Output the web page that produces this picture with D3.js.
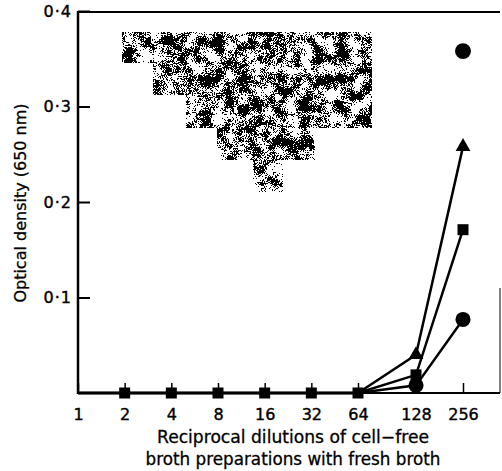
<!DOCTYPE html>
<html>
<head>
<meta charset="utf-8">
<script src="https://cdn.jsdelivr.net/npm/d3@7"></script>
<style>
  body { margin: 0; background: #fff; }
  svg { display: block; font-family: "DejaVu Sans", sans-serif; }
</style>
</head>
<body>
<div id="chart"></div>
<script>
// chart values
var dilutions = [1, 2, 4, 8, 16, 32, 64, 128, 256];
var dilutionLabels = ["1", "2", "4", "8", "16", "32", "64", "128", "256"];
var triangleOD = [0, 0, 0, 0, 0, 0, 0, 0.040, 0.258];
var squareOD = [0, 0, 0, 0, 0, 0, 0, 0.019, 0.171];
var circleOD = [0, 0, 0, 0, 0, 0, 0, 0.008, 0.077];
var loneDilution = [256];
var loneOD = [0.358];
var odTicks = [0.1, 0.2, 0.3, 0.4];
var odTickLabels = ["0\u00B71", "0\u00B72", "0\u00B73", "0\u00B74"];

var width = 502, height = 471;

var svg = d3.select("#chart").append("svg")
    .attr("width", width)
    .attr("height", height);

// the hand-drawn axis is not evenly spaced past 64
var x = d3.scaleLog().base(2)
    .domain([1, 64, 128, 256])
    .range([78, 358, 416, 463]);

var y = d3.scaleLinear()
    .domain([0, 0.4])
    .range([393, 11]);

// stippled stain from the scan: fine grain mixed with coarse clumps, then thresholded
var defs = svg.append("defs");
function stippleFilter(id, cut, seed) {
    var f = defs.append("filter").attr("id", id)
        .attr("x", 0).attr("y", 0).attr("width", 1).attr("height", 1)
        .attr("color-interpolation-filters", "sRGB");
    f.append("feTurbulence").attr("type", "fractalNoise")
        .attr("baseFrequency", 0.9).attr("numOctaves", 2)
        .attr("seed", seed).attr("result", "fine");
    f.append("feColorMatrix").attr("in", "fine").attr("type", "matrix")
        .attr("values", "1 0 0 0 0  0 0 0 0 0  0 0 0 0 0  0 0 0 0 1")
        .attr("result", "fineR");
    f.append("feTurbulence").attr("type", "fractalNoise")
        .attr("baseFrequency", 0.08).attr("numOctaves", 3)
        .attr("seed", seed + 20).attr("result", "coarse");
    f.append("feColorMatrix").attr("in", "coarse").attr("type", "matrix")
        .attr("values", "1 0 0 0 0  0 0 0 0 0  0 0 0 0 0  0 0 0 0 1")
        .attr("result", "coarseR");
    f.append("feComposite").attr("in", "fineR").attr("in2", "coarseR")
        .attr("operator", "arithmetic")
        .attr("k1", 0).attr("k2", 0.7).attr("k3", 0.7).attr("k4", -0.2)
        .attr("result", "mix");
    f.append("feColorMatrix").attr("in", "mix").attr("type", "matrix")
        .attr("values", "0 0 0 0 0  0 0 0 0 0  0 0 0 0 0  1 0 0 0 0")
        .attr("result", "a");
    var table = d3.range(40).map(function(i) { return i < cut ? 0 : 1; }).join(" ");
    f.append("feComponentTransfer").attr("in", "a").attr("result", "dots")
        .append("feFuncA").attr("type", "discrete").attr("tableValues", table);
    f.append("feComposite").attr("in", "dots").attr("in2", "SourceGraphic")
        .attr("operator", "in");
}
stippleFilter("stip", 20, 4);
stippleFilter("stip2", 21, 9);

svg.append("path")
    .attr("d", "M122,32H372V128H315V160H217V128H186V95H153V63H122Z")
    .attr("fill", "#000")
    .attr("filter", "url(#stip)");
svg.append("path")
    .attr("d", "M253,160H283V192H253Z")
    .attr("fill", "#000")
    .attr("filter", "url(#stip2)");

// frame
svg.append("line").attr("x1", 78).attr("x2", 500).attr("y1", 12).attr("y2", 12)
    .attr("stroke", "#000").attr("stroke-width", 2);
svg.append("line").attr("x1", 500).attr("x2", 500).attr("y1", 288).attr("y2", y(0))
    .attr("stroke", "#000").attr("stroke-width", 1);

// y axis
var yAxis = svg.append("g")
    .attr("transform", "translate(78,0)")
    .call(d3.axisLeft(y)
        .tickValues(odTicks)
        .tickFormat(function(d, i) { return odTickLabels[i]; })
        .tickSizeInner(-12)
        .tickSizeOuter(0)
        .tickPadding(6));
yAxis.select(".domain").remove();
yAxis.selectAll(".tick line").attr("stroke", "#000").attr("stroke-width", 2);
yAxis.selectAll(".tick text")
    .attr("fill", "#000")
    .attr("stroke", "#000").attr("stroke-width", 0.4)
    .style("font-family", "DejaVu Sans")
    .style("font-size", "16px")
    .style("letter-spacing", "1px");
svg.append("line").attr("x1", 78).attr("x2", 78).attr("y1", 11).attr("y2", y(0) + 1)
    .attr("stroke", "#000").attr("stroke-width", 2.5);

// x axis
var xAxis = svg.append("g")
    .attr("transform", "translate(0," + y(0) + ")")
    .call(d3.axisBottom(x)
        .tickValues(dilutions)
        .tickFormat(function(d, i) { return dilutionLabels[i]; })
        .tickSizeInner(-10)
        .tickSizeOuter(0)
        .tickPadding(16));
xAxis.select(".domain").remove();
xAxis.selectAll(".tick line").attr("stroke", "#000").attr("stroke-width", 1.5);
xAxis.selectAll(".tick text")
    .attr("fill", "#000")
    .attr("stroke", "#000").attr("stroke-width", 0.4)
    .style("font-family", "DejaVu Sans")
    .style("font-size", "16px");
svg.append("line").attr("x1", 77).attr("x2", 500).attr("y1", y(0)).attr("y2", y(0))
    .attr("stroke", "#000").attr("stroke-width", 2);

// axis titles
svg.append("text")
    .attr("transform", "translate(20,203) rotate(-90)")
    .attr("text-anchor", "middle")
    .attr("dy", "0.35em")
    .attr("stroke", "#000").attr("stroke-width", 0.3)
    .style("font-size", "16px")
    .text("Optical density (650 nm)");
svg.append("text")
    .attr("x", 293).attr("y", 443)
    .attr("text-anchor", "middle")
    .attr("textLength", 272)
    .attr("lengthAdjust", "spacingAndGlyphs")
    .attr("stroke", "#000").attr("stroke-width", 0.3)
    .style("font-size", "17px")
    .text("Reciprocal dilutions of cell\u2212free");
svg.append("text")
    .attr("x", 293).attr("y", 465)
    .attr("text-anchor", "middle")
    .attr("textLength", 295)
    .attr("lengthAdjust", "spacingAndGlyphs")
    .attr("stroke", "#000").attr("stroke-width", 0.3)
    .style("font-size", "17px")
    .text("broth preparations with fresh broth");

// series
var series = [
    { values: triangleOD, symbol: d3.symbolTriangle, size: 95 },
    { values: circleOD, symbol: d3.symbolCircle, size: 180 },
    { values: squareOD, symbol: d3.symbolSquare, size: 121 }
];

var line = d3.line()
    .x(function(d) { return x(d.x); })
    .y(function(d) { return y(d.v); });

series.forEach(function(s) {
    var pts = dilutions.map(function(d, i) { return { x: d, v: s.values[i] }; });
    svg.append("path")
        .datum(pts)
        .attr("fill", "none")
        .attr("stroke", "#000")
        .attr("stroke-width", 2.5)
        .attr("d", line);
});

series.forEach(function(s) {
    var pts = dilutions.map(function(d, i) { return { x: d, v: s.values[i] }; })
        .filter(function(d) {
            // zero readings are all hidden under the squares
            return d.x > 1 && (s.symbol === d3.symbolSquare || d.v > 0);
        });
    svg.append("g").selectAll("path")
        .data(pts)
        .enter()
        .append("path")
            .attr("transform", function(d) { return "translate(" + x(d.x) + "," + y(d.v) + ")"; })
            .attr("d", d3.symbol().type(s.symbol).size(s.size))
            .attr("fill", "#000");
});

// lone point with no line
svg.append("g").selectAll("path")
    .data(loneDilution)
    .enter()
    .append("path")
        .attr("transform", function(d, i) { return "translate(" + x(d) + "," + y(loneOD[i]) + ")"; })
        .attr("d", d3.symbol().type(d3.symbolCircle).size(200))
        .attr("fill", "#000");
</script>
</body>
</html>
